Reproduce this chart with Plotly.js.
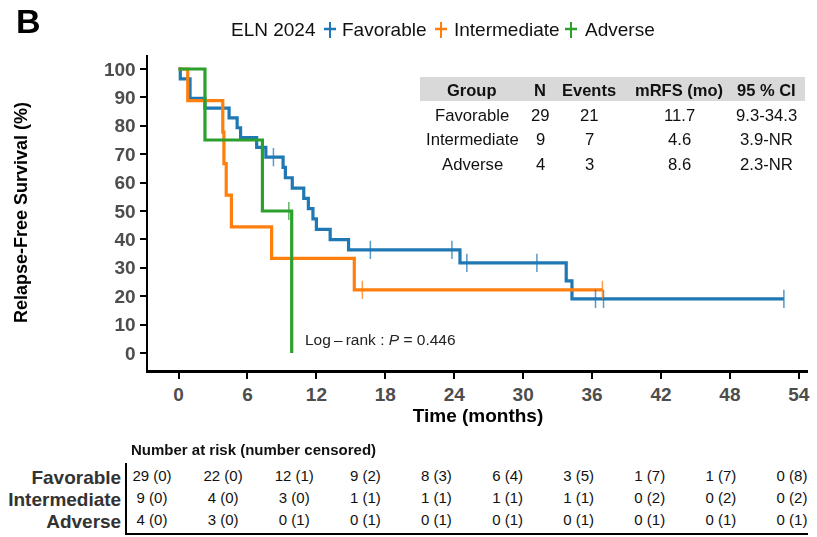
<!DOCTYPE html>
<html><head><meta charset="utf-8">
<script src="https://cdn.plot.ly/plotly-3.0.1.min.js"></script>
<style>html,body{margin:0;padding:0;background:#fff}#chart{width:817px;height:537px}</style>
</head><body><div id="chart"></div>
<script>
// ---- Kaplan-Meier step data ----
const favTime = [0, 0.15, 1.0, 2.3, 4.4, 5.1, 5.4, 6.8, 7.6, 9.1, 9.3, 9.9, 10.9, 11.3, 11.7, 12.0, 13.2, 14.8, 24.5, 33.75, 34.25, 52.7];
const favSurv = [100, 96.55, 89.66, 86.21, 82.76, 79.31, 75.86, 72.41, 68.97, 65.34, 61.71, 58.08, 54.45, 50.82, 47.19, 43.56, 39.93, 36.30, 31.76, 25.41, 19.06, 19.06];
const favCensTime = [8.26, 16.7, 23.8, 25.1, 31.2, 36.3, 37.0, 52.7];
const favCensSurv = [68.97, 36.30, 36.30, 31.76, 31.76, 19.06, 19.06, 19.06];

const intTime = [0, 0.8, 3.85, 3.95, 4.15, 4.6, 8.1, 15.3, 36.9];
const intSurv = [100, 88.89, 77.78, 66.67, 55.56, 44.44, 33.33, 22.22, 22.22];
const intCensTime = [16.0, 36.9];
const intCensSurv = [22.22, 22.22];

const advTime = [0, 2.3, 7.3, 9.85];
const advSurv = [100, 75, 50, 0];
const advCensTime = [9.6];
const advCensSurv = [50];

const groups = ['Favorable', 'Intermediate', 'Adverse'];
const colors = ['#1f77b4', '#ff7f0e', '#2ca02c'];
const legendTitle = 'ELN 2024';

// ---- summary table ----
const tblHeader = ['Group', 'N', 'Events', 'mRFS (mo)', '95 % CI'];
const tblN = ['29', '9', '4'];
const tblEvents = ['21', '7', '3'];
const tblMedian = ['11.7', '4.6', '8.6'];
const tblCI = ['9.3-34.3', '3.9-NR', '2.3-NR'];

// ---- risk table ----
const riskTimes = [0, 6, 12, 18, 24, 30, 36, 42, 48, 54];
const favRisk = ['29 (0)', '22 (0)', '12 (1)', '9 (2)', '8 (3)', '6 (4)', '3 (5)', '1 (7)', '1 (7)', '0 (8)'];
const intRisk = ['9 (0)', '4 (0)', '3 (0)', '1 (1)', '1 (1)', '1 (1)', '1 (1)', '0 (2)', '0 (2)', '0 (2)'];
const advRisk = ['4 (0)', '3 (0)', '0 (1)', '0 (1)', '0 (1)', '0 (1)', '0 (1)', '0 (1)', '0 (1)', '0 (1)'];

const xTicks = [0, 6, 12, 18, 24, 30, 36, 42, 48, 54];
const yTicks = [0, 10, 20, 30, 40, 50, 60, 70, 80, 90, 100];

// ---- geometry helpers (pixel -> paper) ----
const W = 817, H = 537, ML = 127, MR = 9, MT = 55, MB = 4;
const PW = W - ML - MR, PH = H - MT - MB;
const px = v => (v - ML) / PW;
const py = v => (H - MB - v) / PH;

const FONT = '"Liberation Sans", Arial, sans-serif';

const curves = [[favTime, favSurv, favCensTime, favCensSurv], [intTime, intSurv, intCensTime, intCensSurv], [advTime, advSurv, advCensTime, advCensSurv]];
const traces = [];
curves.forEach((c, i) => {
  traces.push({x: c[0], y: c[1], type: 'scatter', mode: 'lines', line: {shape: 'hv', color: colors[i], width: 3.2},
    showlegend: false, hoverinfo: 'skip', xaxis: 'x', yaxis: 'y'});
});
curves.forEach((c, i) => {
  traces.push({x: c[2], y: c[3], type: 'scatter', mode: 'markers', opacity: 0.75,
    marker: {symbol: 'line-ns', size: 13, color: colors[i], line: {color: colors[i], width: 1.5}},
    showlegend: false, hoverinfo: 'skip', cliponaxis: false, xaxis: 'x', yaxis: 'y'});
});
[favRisk, intRisk, advRisk].forEach((r, i) => {
  traces.push({x: riskTimes, y: riskTimes.map(() => groups[i]), text: r, type: 'scatter', mode: 'text',
    textfont: {family: FONT, size: 15, color: '#111'}, textposition: 'middle center',
    showlegend: false, hoverinfo: 'skip', cliponaxis: false, xaxis: 'x2', yaxis: 'y2'});
});

const annotations = [];
const shapes = [];
// panel letter
annotations.push({text: '<b>B</b>', xref: 'paper', yref: 'paper', x: px(14), y: py(21), xanchor: 'left', yanchor: 'middle',
  showarrow: false, font: {family: FONT, size: 34, color: '#000'}});
// legend (title, keys, labels)
annotations.push({text: legendTitle, xref: 'paper', yref: 'paper', x: px(229), y: py(30), xanchor: 'left', yanchor: 'middle',
  showarrow: false, font: {family: FONT, size: 19, color: '#111'}});
const keyX = [330, 441, 571];
const labX = [340, 452, 583];
groups.forEach((g, i) => {
  shapes.push({type: 'line', xref: 'paper', yref: 'paper', x0: px(keyX[i] - 6), x1: px(keyX[i] + 6), y0: py(29), y1: py(29),
    line: {color: colors[i], width: 2.5}});
  shapes.push({type: 'line', xref: 'paper', yref: 'paper', x0: px(keyX[i]), x1: px(keyX[i]), y0: py(22), y1: py(38),
    line: {color: colors[i], width: 2}});
  annotations.push({text: g, xref: 'paper', yref: 'paper', x: px(labX[i]), y: py(30), xanchor: 'left', yanchor: 'middle',
    showarrow: false, font: {family: FONT, size: 19, color: '#111'}});
});
// log-rank
annotations.push({text: 'Log\u2009\u2013\u2009rank : <i>P</i> = 0.446', xref: 'x', yref: 'y', x: 10.8, y: 4.6,
  xanchor: 'left', yanchor: 'middle', showarrow: false, font: {family: FONT, size: 15.5, color: '#222'}});
// risk header
annotations.push({text: '<b>Number at risk (number censored)</b>', xref: 'paper', yref: 'paper', x: px(129), y: py(449),
  xanchor: 'left', yanchor: 'middle', showarrow: false, font: {family: FONT, size: 15, color: '#111'}});
// summary table
shapes.push({type: 'rect', xref: 'paper', yref: 'paper', x0: px(420), x1: px(805), y0: py(101), y1: py(77),
  fillcolor: '#d9d9d9', line: {width: 0}, layer: 'below'});
const colX = [472, 540, 589, 679, 766];
const rowY = [115, 139.5, 164];
tblHeader.forEach((h, j) => {
  annotations.push({text: '<b>' + h + '</b>', xref: 'paper', yref: 'paper', x: px(colX[j]), y: py(90),
    xanchor: 'center', yanchor: 'middle', showarrow: false, font: {family: FONT, size: 16.5, color: '#111'}});
});
groups.forEach((g, i) => {
  const row = [g, tblN[i], tblEvents[i], tblMedian[i], tblCI[i]];
  row.forEach((t, j) => {
    annotations.push({text: t, xref: 'paper', yref: 'paper', x: px(colX[j]), y: py(rowY[i]),
      xanchor: 'center', yanchor: 'middle', showarrow: false, font: {family: FONT, size: 16.7, color: '#111'}});
  });
});

const layout = {
  width: W, height: H,
  margin: {l: ML, r: MR, t: MT, b: MB, pad: 0},
  paper_bgcolor: '#fff', plot_bgcolor: 'rgba(0,0,0,0)',
  font: {family: FONT},
  showlegend: false,
  xaxis: {domain: [px(148), 1], anchor: 'y', range: [-2.66, 54.8], tickvals: xTicks, ticktext: xTicks.map(String),
    showline: true, linewidth: 2.5, linecolor: '#000', ticks: 'outside', ticklen: 6, tickwidth: 2, tickcolor: '#000',
    showgrid: false, zeroline: false, tickfont: {family: FONT, size: 19, color: '#4d4d4d', weight: 700},
    title: {text: 'Time (months)', standoff: 5, font: {family: FONT, size: 19, color: '#000', weight: 700}}, automargin: false},
  yaxis: {domain: [py(370), 1], anchor: 'x', range: [-5.99, 104.93], tickvals: yTicks, ticktext: yTicks.map(String),
    showline: true, linewidth: 2.5, linecolor: '#000', ticks: 'outside', ticklen: 6, tickwidth: 2, tickcolor: '#000',
    showgrid: false, zeroline: false, tickfont: {family: FONT, size: 19, color: '#4d4d4d', weight: 700},
    title: {text: 'Relapse-Free Survival (%)', standoff: 72, font: {family: FONT, size: 18, color: '#000', weight: 700}}, automargin: false},
  xaxis2: {domain: [0, 1], anchor: 'y2', range: [-2.109, 55.35], showline: true, linewidth: 2, linecolor: '#000',
    showticklabels: false, ticks: '', showgrid: false, zeroline: false},
  yaxis2: {domain: [0, py(463)], anchor: 'x2', type: 'category', categoryarray: ['Adverse', 'Intermediate', 'Favorable'],
    categoryorder: 'array', tickmode: 'array', tickvals: groups, ticktext: groups,
    range: [-0.55, 2.64], showline: true, linewidth: 2, linecolor: '#000', ticks: '',
    showgrid: false, zeroline: false, tickfont: {family: FONT, size: 19, color: '#333', weight: 700}, automargin: false},
  annotations: annotations,
  shapes: shapes
};

Plotly.newPlot('chart', traces, layout, {displayModeBar: false, staticPlot: true});
</script>
</body></html>
